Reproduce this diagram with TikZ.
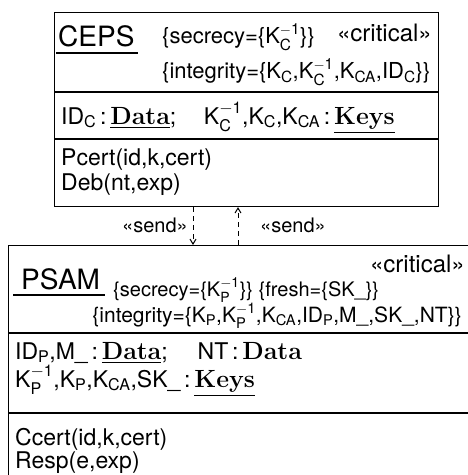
\documentclass[tikz,border=0pt]{standalone}
\usepackage{amsmath}
\usepackage[no-math]{fontspec}
\setmainfont{TeX Gyre Heros}
\usetikzlibrary{arrows.meta}
\newcommand\Kinv[1]{K$_{\text{#1}}^{-\text{1}}$}
\newcommand\Sb[2]{#1$_{\text{#2}}$}
\newcommand\Dt{$\mathbf{Data}$}
\newcommand\UDt{$\underline{\mathbf{Data}}$}
\newcommand\UKy{$\underline{\mathbf{Keys}}$}
\newcommand\cl{\,:\,}
\begin{document}
\begin{tikzpicture}[x=1pt,y=-1pt,
  box/.style={draw,line width=1.1pt,rectangle,inner sep=0pt,anchor=north west},
  sepline/.style={line width=1.1pt},
  txt/.style={inner sep=0pt,anchor=base west},
  txtr/.style={inner sep=0pt,anchor=base east},
  namefont/.style={font=\fontsize{28}{30}\selectfont},
  critfont/.style={font=\fontsize{24}{26}\selectfont},
  consfont/.style={font=\fontsize{21}{23}\selectfont},
  uconsfont/.style={font=\fontsize{22}{24}\selectfont},
  lsecfont/.style={font=\fontsize{20}{22}\selectfont},
  bodyfont/.style={font=\fontsize{23}{25}\selectfont},
  sendfont/.style={font=\fontsize{20}{22}\selectfont},
  msg/.style={line width=1pt,dash pattern=on 5pt off 4pt,-{Straight Barb[length=5pt,width=6pt]}},
  uline/.style={line width=1.2pt}]
\useasboundingbox (0,0) rectangle (468,475);
\fill[white] (0,0) rectangle (468,475);
% upper class
\node[box,minimum width=384pt,minimum height=194pt] (ceps) at (54,12) {};
\coordinate (u1) at (0,92);
\coordinate (u2) at (0,139);
\draw[sepline] (ceps.west |- u1) -- (ceps.east |- u1);
\draw[sepline] (ceps.west |- u2) -- (ceps.east |- u2);
\node[txt,namefont] (cepsname) at (58,46) {CEPS};
\draw[uline] ([xshift=-2pt,yshift=-7pt]cepsname.base west) -- ([xshift=3pt,yshift=-7pt]cepsname.base east);
\node[txt,uconsfont] (cepssec) at (162,43) {\{secrecy=\{\Kinv{C}\}\}};
\node[txtr,critfont] (cepscrit) at (432,41) {«critical»};
\node[txt,uconsfont] (cepsint) at (162,78) {\{integrity=\{\Sb{K}{C},\Kinv{C},\Sb{K}{CA},\Sb{ID}{C}\}\}};
\node[txt,bodyfont] (cepsatt) at (61,124) {\Sb{ID}{C}\cl\UDt;\hspace{1.2em}\Kinv{C},\Sb{K}{C},\Sb{K}{CA}\cl\UKy};
\node[txt,bodyfont] (cepsop1) at (61,165) {Pcert(id,k,cert)};
\node[txt,bodyfont] (cepsop2) at (61,190) {Deb(nt,exp)};
% lower class
\node[box,minimum width=480pt,minimum height=250pt] (psam) at (8,245) {};
\coordinate (l1) at (0,333);
\coordinate (l2) at (0,413);
\draw[sepline] (psam.west |- l1) -- (psam.east |- l1);
\draw[sepline] (psam.west |- l2) -- (psam.east |- l2);
\node[txtr,critfont] (psamcrit) at (465,272) {«critical»};
\node[txt,namefont] (psamname) at (21,289) {PSAM};
\draw[uline] ([xshift=-8pt,yshift=-6pt]psamname.base west) -- ([xshift=5pt,yshift=-6pt]psamname.base east);
\node[txt,lsecfont] (psamsec) at (113,296) {\{secrecy=\{\Kinv{P}\}\} \{fresh=\{SK\_\}\}};
\node[txtr,consfont] (psamint) at (462,322) {\{integrity=\{\Sb{K}{P},\Kinv{P},\Sb{K}{CA},\Sb{ID}{P},M\_,SK\_,NT\}\}};
\node[txt,bodyfont] (psamatt1) at (15,359) {\Sb{ID}{P},M\_\cl\UDt;\hspace{1.3em}NT\cl\Dt};
\node[txt,bodyfont] (psamatt2) at (15,387) {\Kinv{P},\Sb{K}{P},\Sb{K}{CA},SK\_\cl\UKy};
\node[txt,bodyfont] (psamop1) at (15,445) {Ccert(id,k,cert)};
\node[txt,bodyfont] (psamop2) at (15,468) {Resp(e,exp)};
% messages
\coordinate (a1) at (193,0);
\coordinate (a2) at (238,0);
\draw[msg] (ceps.south -| a1) -- (psam.north -| a1);
\draw[msg] (psam.north -| a2) -- (ceps.south -| a2);
\node[txtr,sendfont] (send1) at (188,232) {«send»};
\node[txt,sendfont] (send2) at (260,232) {«send»};
\end{tikzpicture}
\end{document}
